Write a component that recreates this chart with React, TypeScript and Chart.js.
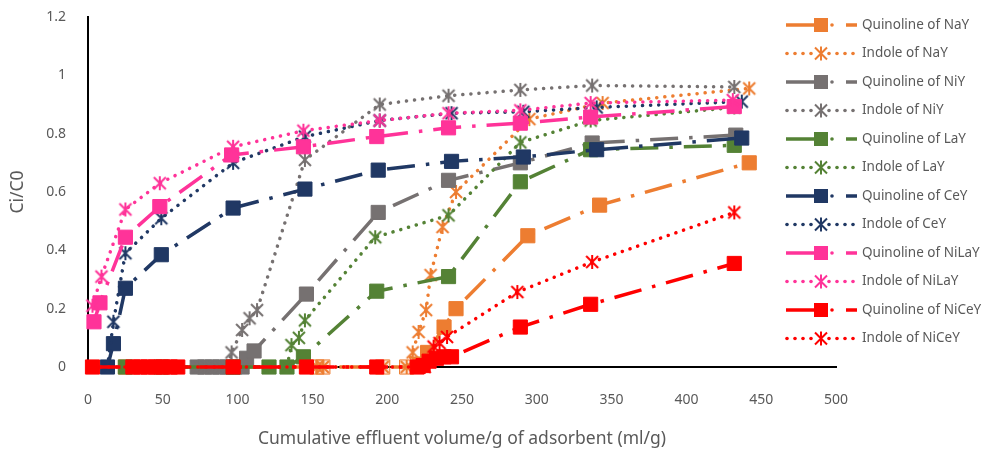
import { useEffect, useRef } from "react";
import { Chart, registerables } from "chart.js";

Chart.register(...registerables);

// ---------- data ----------
const xAxisMin = 0;
const xAxisMax = 500;
const xAxisStep = 50;
const yAxisMin = 0;
const yAxisMax = 1.2;
const yAxisStep = 0.2;

const xAxisTitle = "Cumulative effluent volume/g of adsorbent (ml/g)";
const yAxisTitle = "Ci/C0";

const seriesNames = [
  "Quinoline of NaY",
  "Indole of NaY",
  "Quinoline of NiY",
  "Indole of NiY",
  "Quinoline of LaY",
  "Indole of LaY",
  "Quinoline of CeY",
  "Indole of CeY",
  "Quinoline of NiLaY",
  "Indole of NiLaY",
  "Quinoline of NiCeY",
  "Indole of NiCeY",
];

const quinolineNaYX = [25, 153, 157, 197, 213, 222, 227, 238, 246, 294, 342, 442];
const quinolineNaYY = [0, 0, 0, 0, 0, 0.01, 0.05, 0.137, 0.2, 0.45, 0.555, 0.7];

const indoleNaYX = [25, 153, 157, 197, 213, 217, 221, 226, 229, 237, 246, 295, 344, 442];
const indoleNaYY = [0, 0, 0, 0, 0, 0.05, 0.12, 0.195, 0.315, 0.48, 0.6, 0.85, 0.905, 0.955];

const quinolineNiYX = [73, 78, 83, 88, 93, 98, 103, 106, 111, 146, 194, 241, 289, 337, 433];
const quinolineNiYY = [0, 0, 0, 0, 0, 0, 0, 0.03, 0.055, 0.25, 0.53, 0.64, 0.7, 0.768, 0.795];

const indoleNiYX = [73, 78, 83, 88, 93, 96, 103, 108, 113, 145, 195, 241, 289, 337, 432];
const indoleNiYY = [0, 0, 0, 0, 0, 0.05, 0.127, 0.167, 0.195, 0.71, 0.9, 0.93, 0.95, 0.965, 0.96];

const quinolineLaYX = [25, 49, 97, 121, 133, 144, 193, 241, 289, 336, 432];
const quinolineLaYY = [0, 0, 0, 0, 0, 0.035, 0.26, 0.31, 0.635, 0.745, 0.76];

const indoleLaYX = [25, 49, 97, 121, 133, 136, 141, 145, 192, 241, 289, 336, 432];
const indoleLaYY = [0, 0, 0, 0, 0, 0.075, 0.1, 0.16, 0.445, 0.52, 0.77, 0.845, 0.89];

const quinolineCeYX = [13, 17, 25, 49, 97, 145, 194, 243, 291, 340, 437];
const quinolineCeYY = [0, 0.08, 0.27, 0.385, 0.545, 0.61, 0.675, 0.705, 0.72, 0.745, 0.785];

const indoleCeYX = [13, 17, 25, 49, 97, 145, 195, 243, 291, 340, 437];
const indoleCeYY = [0, 0.155, 0.39, 0.51, 0.7, 0.79, 0.845, 0.87, 0.875, 0.89, 0.91];

const quinolineNiLaYX = [4, 8, 25, 48, 96, 144, 193, 241, 289, 336, 432];
const quinolineNiLaYY = [0.155, 0.22, 0.445, 0.55, 0.727, 0.755, 0.79, 0.82, 0.836, 0.857, 0.893];

const indoleNiLaYX = [3, 9, 25, 48, 97, 144, 195, 241, 289, 336, 431];
const indoleNiLaYY = [0.21, 0.31, 0.54, 0.63, 0.755, 0.81, 0.845, 0.87, 0.88, 0.905, 0.915];

const quinolineNiCeYX = [3, 30, 35, 40, 45, 50, 55, 60, 97, 146, 193, 220, 224, 228, 233, 238, 243, 289, 336, 432];
const quinolineNiCeYY = [0, 0, 0, 0, 0, 0, 0, 0, 0, 0, 0, 0, 0.005, 0.02, 0.03, 0.035, 0.035, 0.137, 0.215, 0.355];

const indoleNiCeYX = [3, 30, 35, 40, 45, 50, 55, 60, 97, 146, 193, 220, 225, 231, 235, 240, 287, 337, 432];
const indoleNiCeYY = [0, 0, 0, 0, 0, 0, 0, 0, 0, 0, 0, 0, 0, 0.07, 0.082, 0.103, 0.257, 0.36, 0.53];

const seriesX = [
  quinolineNaYX, indoleNaYX, quinolineNiYX, indoleNiYX, quinolineLaYX, indoleLaYX,
  quinolineCeYX, indoleCeYX, quinolineNiLaYX, indoleNiLaYX, quinolineNiCeYX, indoleNiCeYX,
];
const seriesY = [
  quinolineNaYY, indoleNaYY, quinolineNiYY, indoleNiYY, quinolineLaYY, indoleLaYY,
  quinolineCeYY, indoleCeYY, quinolineNiLaYY, indoleNiLaYY, quinolineNiCeYY, indoleNiCeYY,
];

// ---------- styles ----------
const ORANGE = "#ED7D31";
const GRAY = "#767171";
const GREEN = "#548235";
const NAVY = "#203864";
const PINK = "#FF3399";
const RED = "#FF0000";
const seriesColors = [ORANGE, ORANGE, GRAY, GRAY, GREEN, GREEN, NAVY, NAVY, PINK, PINK, RED, RED];

const TEXT_COLOR = "#595959";
const FONT = "'Noto Sans', sans-serif";
const LINE_W = 3.5;
const DASH_DOT = [28, 11, 3.5, 11];
const ROUND_DOT = [0.1, 8];

function makeStar(color: string): HTMLCanvasElement {
  const c = document.createElement("canvas");
  c.width = 18;
  c.height = 18;
  const ctx = c.getContext("2d")!;
  ctx.strokeStyle = color;
  ctx.lineWidth = 2;
  const m = 9;
  const r = 6;
  ctx.beginPath();
  ctx.moveTo(m - r, m - r);
  ctx.lineTo(m + r, m + r);
  ctx.moveTo(m - r, m + r);
  ctx.lineTo(m + r, m - r);
  ctx.moveTo(m, m - r - 1);
  ctx.lineTo(m, m + r + 1);
  ctx.stroke();
  return c;
}

function drawStar(ctx: CanvasRenderingContext2D, x: number, y: number, color: string) {
  const r = 6;
  ctx.save();
  ctx.strokeStyle = color;
  ctx.lineWidth = 2;
  ctx.setLineDash([]);
  ctx.beginPath();
  ctx.moveTo(x - r, y - r);
  ctx.lineTo(x + r, y + r);
  ctx.moveTo(x - r, y + r);
  ctx.lineTo(x + r, y - r);
  ctx.moveTo(x, y - r - 1);
  ctx.lineTo(x, y + r + 1);
  ctx.stroke();
  ctx.restore();
}

const LEGEND_X0 = 786;
const LEGEND_MARK = 821;
const LEGEND_X1 = 857;
const LEGEND_TEXT_X = 862;
const LEGEND_TOP = 25;
const LEGEND_GAP = 28.5;

const legendPlugin = {
  id: "sideLegend",
  afterDraw(chart: any) {
    const ctx: CanvasRenderingContext2D = chart.ctx;
    ctx.save();
    seriesNames.forEach((name, i) => {
      const y = LEGEND_TOP + i * LEGEND_GAP;
      const color = seriesColors[i];
      const isQuinoline = i % 2 === 0;
      ctx.strokeStyle = color;
      ctx.fillStyle = color;
      ctx.lineWidth = LINE_W;
      if (isQuinoline) {
        ctx.setLineDash([]);
        ctx.lineCap = "butt";
        ctx.beginPath();
        ctx.moveTo(LEGEND_X0, y);
        ctx.lineTo(LEGEND_MARK, y);
        ctx.moveTo(846, y);
        ctx.lineTo(LEGEND_X1, y);
        ctx.stroke();
        ctx.beginPath();
        ctx.arc(832, y, 1.8, 0, Math.PI * 2);
        ctx.fill();
        ctx.fillRect(LEGEND_MARK - 7, y - 7, 14, 14);
      } else {
        [787, 795, 803, 811, 829, 837, 845, 853].forEach((dx) => {
          ctx.beginPath();
          ctx.arc(dx, y, 1.8, 0, Math.PI * 2);
          ctx.fill();
        });
        drawStar(ctx, LEGEND_MARK, y, color);
      }
      ctx.fillStyle = TEXT_COLOR;
      ctx.font = `13.5px ${FONT}`;
      ctx.textBaseline = "middle";
      ctx.textAlign = "left";
      ctx.fillText(name, LEGEND_TEXT_X, y);
    });
    ctx.restore();
  },
};

export default function App() {
  const canvasRef = useRef<HTMLCanvasElement | null>(null);

  useEffect(() => {
    if (!canvasRef.current) return;
    const datasets = seriesNames.map((name, i) => {
      const color = seriesColors[i];
      const isQuinoline = i % 2 === 0;
      const data = seriesX[i].map((x, k) => ({ x, y: seriesY[i][k] }));
      let pointBg: any = color;
      if (i === 0) {
        pointBg = seriesY[i].map((v) => (v === 0 ? "rgba(237,125,49,0.2)" : color));
      }
      return {
        label: name,
        data,
        borderColor: color,
        backgroundColor: color,
        borderWidth: LINE_W,
        borderDash: isQuinoline ? DASH_DOT : ROUND_DOT,
        borderCapStyle: isQuinoline ? "butt" : "round",
        borderJoinStyle: "round",
        tension: 0,
        fill: false,
        showLine: true,
        pointStyle: isQuinoline ? "rect" : makeStar(color),
        pointRadius: isQuinoline ? 10 : 8,
        pointHoverRadius: isQuinoline ? 10 : 8,
        pointBackgroundColor: pointBg,
        pointBorderColor: color,
        pointBorderWidth: 1,
        order: 20 - i,
        clip: false,
      };
    });

    const chart = new Chart(canvasRef.current, {
      type: "scatter",
      data: { datasets: datasets as any },
      options: {
        animation: false,
        responsive: false,
        maintainAspectRatio: false,
        layout: { padding: { left: 0, top: 17, right: 153, bottom: 0 } },
        plugins: {
          legend: { display: false },
          tooltip: { enabled: false },
        },
        scales: {
          x: {
            type: "linear",
            min: xAxisMin,
            max: xAxisMax,
            grid: { display: false, drawTicks: false },
            border: { display: true, color: "#000000", width: 2 },
            ticks: {
              stepSize: xAxisStep,
              padding: 25,
              color: TEXT_COLOR,
              font: { family: FONT, size: 14 },
            },
            title: {
              display: true,
              text: xAxisTitle,
              color: TEXT_COLOR,
              font: { family: FONT, size: 17.5 },
              padding: { top: 0, bottom: 2 },
            },
            afterFit: (scale: any) => {
              scale.height = 85;
            },
          },
          y: {
            type: "linear",
            min: yAxisMin,
            max: yAxisMax,
            grid: { display: false, drawTicks: false },
            border: { display: true, color: "#000000", width: 2 },
            ticks: {
              stepSize: yAxisStep,
              padding: 22,
              color: TEXT_COLOR,
              font: { family: FONT, size: 14 },
              callback: (v: any) => Number(v).toFixed(1).replace(/\.0$/, ""),
            },
            title: {
              display: true,
              text: yAxisTitle,
              color: TEXT_COLOR,
              font: { family: FONT, size: 17.5 },
              padding: { top: 7.5, bottom: 0 },
            },
            afterFit: (scale: any) => {
              scale.width = 88;
              scale.paddingTop = 0;
              scale.paddingBottom = 0;
            },
          },
        },
      },
      plugins: [legendPlugin],
    });
    return () => chart.destroy();
  }, []);

  return (
    <div style={{ position: "fixed", left: 0, top: 0, width: 989, height: 452, background: "#ffffff" }}>
      <canvas ref={canvasRef} width={989} height={452} style={{ display: "block" }} />
    </div>
  );
}
